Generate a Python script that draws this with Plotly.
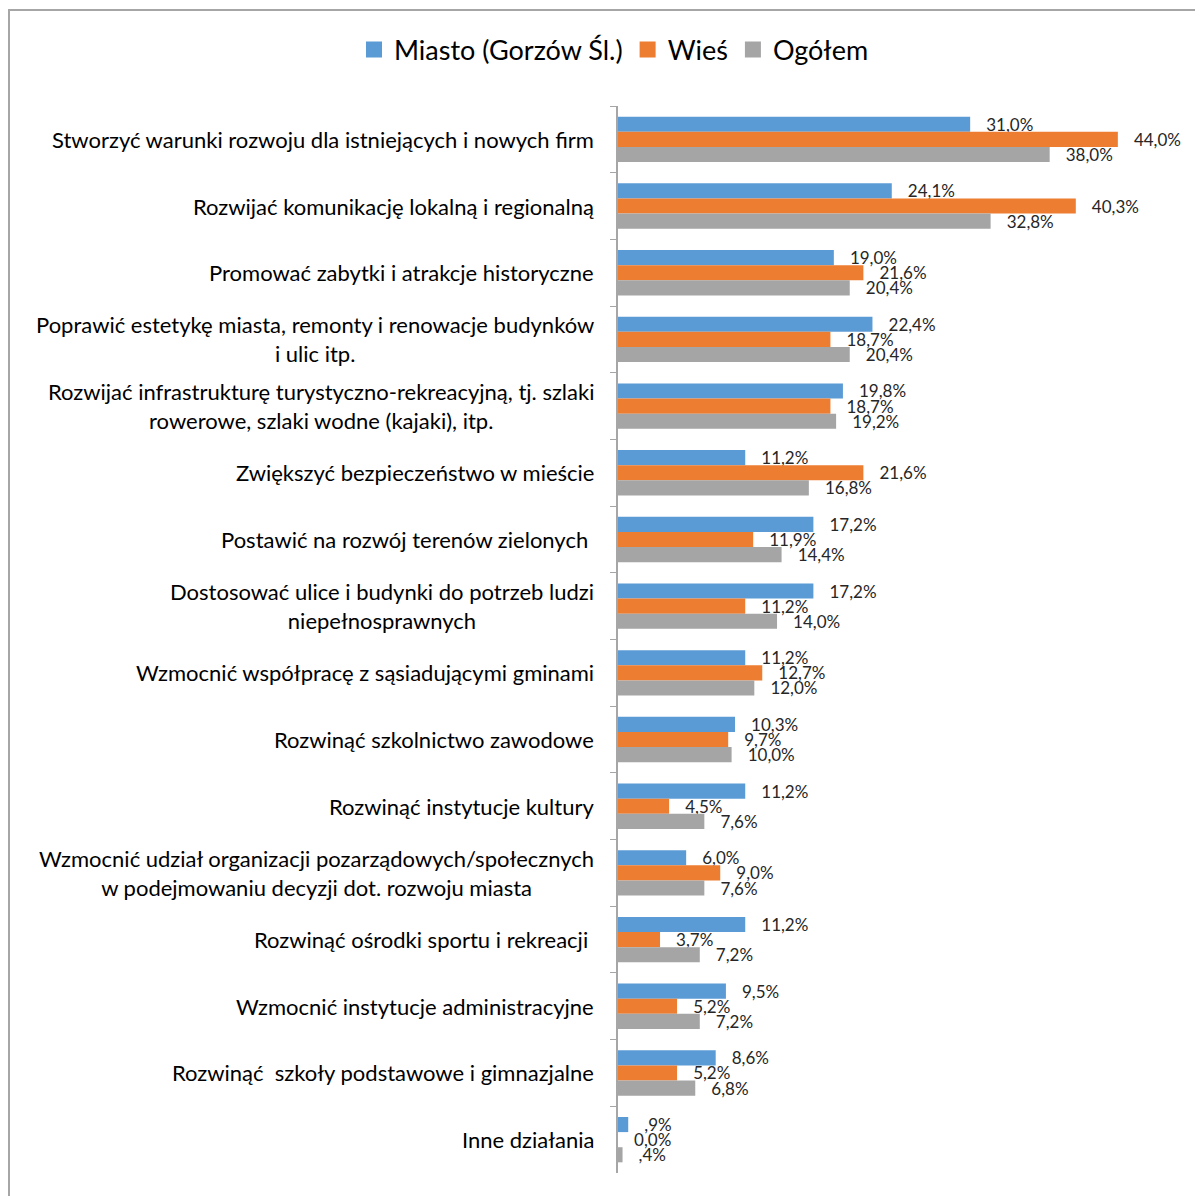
import plotly.graph_objects as go

categories = [
    "Stworzyć warunki rozwoju dla istniejących i nowych firm",
    "Rozwijać komunikację lokalną i regionalną",
    "Promować zabytki i atrakcje historyczne",
    "Poprawić estetykę miasta, remonty i renowacje budynków<br>i ulic itp.",
    "Rozwijać infrastrukturę turystyczno-rekreacyjną, tj. szlaki<br>rowerowe, szlaki wodne (kajaki), itp.",
    "Zwiększyć bezpieczeństwo w mieście",
    "Postawić na rozwój terenów zielonych ",
    "Dostosować ulice i budynki do potrzeb ludzi<br>niepełnosprawnych",
    "Wzmocnić współpracę z sąsiadującymi gminami",
    "Rozwinąć szkolnictwo zawodowe",
    "Rozwinąć instytucje kultury",
    "Wzmocnić udział organizacji pozarządowych/społecznych<br>w podejmowaniu decyzji dot. rozwoju miasta",
    "Rozwinąć ośrodki sportu i rekreacji ",
    "Wzmocnić instytucje administracyjne",
    "Rozwinąć  szkoły podstawowe i gimnazjalne",
    "Inne działania",
]

miasto = [31.0, 24.1, 19.0, 22.4, 19.8, 11.2, 17.2, 17.2, 11.2, 10.3, 11.2, 6.0, 11.2, 9.5, 8.6, 0.9]
wies = [44.0, 40.3, 21.6, 18.7, 18.7, 21.6, 11.9, 11.2, 12.7, 9.7, 4.5, 9.0, 3.7, 5.2, 5.2, 0.0]
ogolem = [38.0, 32.8, 20.4, 20.4, 19.2, 16.8, 14.4, 14.0, 12.0, 10.0, 7.6, 7.6, 7.2, 7.2, 6.8, 0.4]

series = [
    ("Miasto (Gorzów Śl.)", miasto, "#5B9BD5"),
    ("Wieś", wies, "#ED7D31"),
    ("Ogółem", ogolem, "#A5A5A5"),
]


def pl_pct(v):
    s = f"{v:.1f}".replace(".", ",")
    if v != 0 and s.startswith("0,"):
        s = s[1:]
    return "   " + s + "%"


W, H = 1203, 1196
L, R, T, B = 610, 25, 98, 31
FONT = "Lato, Carlito, Calibri, sans-serif"

fig = go.Figure()

for name, vals, color in series:
    fig.add_trace(go.Bar(
        y=categories,
        x=vals,
        orientation="h",
        name=name,
        marker=dict(color=color, line_width=0),
        text=[pl_pct(v) for v in vals],
        textposition="outside",
        textfont=dict(size=17, color="#262626", family=FONT),
        cliponaxis=False,
        hoverinfo="skip",
        showlegend=False,
    ))

# legend entries with bigger square swatches
for name, vals, color in series:
    fig.add_trace(go.Scatter(
        x=[None], y=[None],
        mode="markers",
        name=name,
        marker=dict(symbol="square", size=17, color=color),
    ))

# category labels, centered multi-line like the original
for cat in categories:
    fig.add_annotation(
        x=0, xref="paper", y=cat, yref="y",
        text=cat, showarrow=False,
        xanchor="right", xshift=-22, align="center",
        font=dict(size=22, color="#000000", family=FONT),
    )

# outer chart border (only top and left visible in the crop)
pw, ph = W - L - R, H - T - B
fig.add_shape(
    type="rect", xref="paper", yref="paper",
    x0=(1 - L) / pw, x1=(W + 20 - L) / pw,
    y0=(H - B - (H + 20)) / ph, y1=(H - B - 2) / ph,
    line=dict(color="#A6A6A6", width=2),
)

fig.update_layout(
    width=W,
    height=H,
    margin=dict(l=L, r=R, t=T, b=B),
    barmode="group",
    bargap=0.32,
    bargroupgap=0,
    plot_bgcolor="white",
    paper_bgcolor="white",
    font=dict(family=FONT, color="#000000"),
    uniformtext=dict(minsize=17, mode="show"),
    legend=dict(
        orientation="h",
        xref="container", yref="container",
        x=(614 - 8) / W, xanchor="center",
        y=1 - 42 / H, yanchor="middle",
        font=dict(size=27, family=FONT, color="#000000"),
        itemwidth=30,
        tracegroupgap=0,
    ),
)

fig.update_xaxes(range=[0, 50], visible=False)
fig.update_yaxes(
    autorange="reversed",
    showticklabels=False,
    showline=True, linecolor="#A6A6A6", linewidth=1.5,
    ticks="outside", tickson="boundaries", ticklen=6, tickcolor="#A6A6A6",
    showgrid=False, zeroline=False,
)

fig.write_html("out.html")
